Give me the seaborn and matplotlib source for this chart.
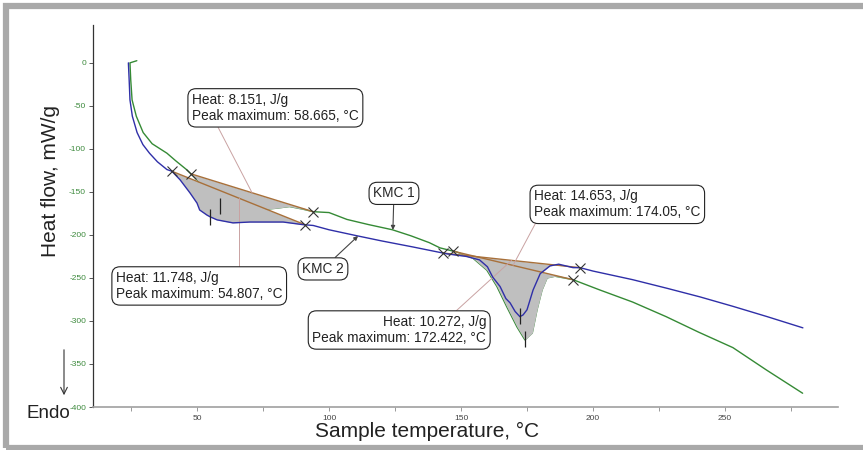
import numpy as np
import matplotlib
matplotlib.use("Agg")
import matplotlib.pyplot as plt
import seaborn as sns
from matplotlib.patches import Rectangle

# KMC 2 (blue) - sample temperature, °C / heat flow, mW/g
kmc2_t = [24.0, 24.3, 24.6, 25.5, 27.3, 29.5, 32.0, 35.0, 38.6, 40.5, 43.6, 47.3, 50.0, 51.0,
          53.8, 55.0, 57.6, 63.6, 70.0, 76.5, 82.6, 90.0, 94.0, 100.0, 110.6, 120.0, 131.8,
          144.7, 152.0, 157.0, 160.0, 162.0, 164.8, 167.0, 168.6, 170.5, 172.3, 173.5, 175.0,
          177.3, 180.0, 183.7, 187.0, 192.4, 195.0, 200.0, 215.0, 228.0, 240.5, 253.0, 266.0, 279.5]
kmc2_hf = [0, -20, -43, -62, -81, -95, -105, -115, -124, -126, -136, -151, -163, -171,
           -177, -179, -182.5, -186, -185, -185, -185, -188, -189, -194, -201, -207, -214,
           -222, -225, -229, -237, -249, -260, -274, -279, -289, -295, -293, -287,
           -264, -245, -236, -234, -238, -238, -242, -252, -262, -272, -283, -295, -308]

# KMC 1 (green)
kmc1_t = [27.2, 24.6, 24.9, 25.4, 27.0, 29.6, 33.0, 38.6, 42.0, 46.0, 47.7, 50.0, 55.0, 58.7,
          65.0, 72.0, 76.5, 80.0, 85.0, 90.0, 94.0, 100.0, 106.8, 115.0, 124.0, 131.0, 138.0,
          142.0, 148.5, 154.5, 159.8, 163.6, 167.4, 171.2, 174.2, 177.0, 178.8, 180.7, 182.6,
          185.6, 192.4, 202.6, 215.0, 227.7, 240.0, 253.0, 265.7, 279.4]
kmc1_hf = [2.5, 0, -20, -43, -62, -81, -94, -105, -114, -124, -129, -136, -155, -166,
           -170, -170, -170, -169, -167, -170, -173, -174, -182, -188, -194, -201, -209,
           -215, -220, -227, -241, -260, -284, -307, -322, -314, -287, -264, -250,
           -248, -252, -264, -278, -295, -313, -331, -357, -384]

# integration limits (start, end) and peak maxima
kmc2_limits = [(40.5, 91.0), (143.2, 195.1)]
kmc1_limits = [(47.7, 94.0), (147.0, 192.4)]
kmc2_peaks = [54.807, 172.422]
kmc1_peaks = [58.665, 174.05]
kmc2_heat = [11.748, 10.272]
kmc1_heat = [8.151, 14.653]

BLUE = "#2f2fa8"
GREEN = "#358a35"
FILL = "#bfbfbf"
BASE = "#a8703a"
LEADER = "#c9a2a2"

sns.set_theme(style="white")
plt.rcParams["font.family"] = ["Liberation Sans", "DejaVu Sans"]
plt.rcParams["axes.unicode_minus"] = False

fig = plt.figure(figsize=(8.63, 4.5), dpi=100)
ax = fig.add_axes([93 / 863, 43 / 450, 745 / 863, 382 / 450])

# curves
sns.lineplot(x=kmc1_t, y=kmc1_hf, sort=False, estimator=None, color=GREEN, lw=1.0, ax=ax, zorder=2)

curves = [(kmc2_t, kmc2_hf, kmc2_limits, kmc2_peaks),
          (kmc1_t, kmc1_hf, kmc1_limits, kmc1_peaks)]
mids = {}
for name, (t, hf, limits, peaks) in zip(["kmc2", "kmc1"], curves):
    t_sorted = np.array(t[1:] if name == "kmc1" else t)
    hf_sorted = np.array(hf[1:] if name == "kmc1" else hf)
    mids[name] = []
    for (a, b), pk in zip(limits, peaks):
        grid = np.linspace(a, b, 300)
        curve = np.interp(grid, t_sorted, hf_sorted)
        ya, yb = np.interp([a, b], t_sorted, hf_sorted)
        base = ya + (grid - a) * (yb - ya) / (b - a)
        ax.fill_between(grid, base, curve, color=FILL, lw=0, zorder=3)
        ax.plot([a, b], [ya, yb], color=BASE, lw=1.0, zorder=4)
        ax.plot([a, b], [ya, yb], ls="none", marker="x", ms=7, mew=0.8, color="#333333", zorder=6)
        ax.plot([pk], [np.interp(pk, t_sorted, hf_sorted)], ls="none", marker="|", ms=11,
                mew=0.9, color="#222222", zorder=6)
        m = (a + b) / 2
        mids[name].append((m, ya + (m - a) * (yb - ya) / (b - a)))

sns.lineplot(x=kmc2_t, y=kmc2_hf, sort=False, estimator=None, color=BLUE, lw=1.0, ax=ax, zorder=5)

# result labels
box = dict(boxstyle="round,pad=0.3,rounding_size=0.6", fc="white", ec="#222222", lw=0.8)
fs = 9.8
labels = [
    (f"Heat: {kmc1_heat[0]}, J/g\nPeak maximum: {kmc1_peaks[0]}, °C", (48.1, -52.3), "left", mids["kmc1"][0], (58.0, -75.0)),
    (f"Heat: {kmc2_heat[0]}, J/g\nPeak maximum: {kmc2_peaks[0]}, °C", (19.3, -259.3), "left", mids["kmc2"][0], (mids["kmc2"][0][0], -238.0)),
    (f"Heat: {kmc1_heat[1]}, J/g\nPeak maximum: {kmc1_peaks[1]}, °C", (177.7, -164.5), "left", mids["kmc1"][1], (178.3, -186.0)),
    (f"Heat: {kmc2_heat[1]}, J/g\nPeak maximum: {kmc2_peaks[1]}, °C", (159.5, -310.5), "right", mids["kmc2"][1], (147.9, -289.0)),
]
for txt, pos, ha, tip, start in labels:
    ax.plot([start[0], tip[0]], [start[1], tip[1]], color=LEADER, lw=0.7, zorder=4.5)
    ax.text(pos[0], pos[1], txt, ha=ha, va="center", fontsize=fs, color="#222222",
            linespacing=1.2, bbox=box, zorder=8)

arrow = dict(arrowstyle="-|>", color="#444444", lw=0.8, mutation_scale=6, shrinkA=0, shrinkB=0)
ax.annotate("KMC 1", xy=(124.2, np.interp(124.2, kmc1_t[1:], kmc1_hf[1:])), xytext=(124.6, -151.7),
            ha="center", va="center", fontsize=fs, bbox=box, arrowprops=arrow, zorder=8)
ax.annotate("KMC 2", xy=(111.0, np.interp(111.0, kmc2_t, kmc2_hf)), xytext=(97.7, -239.5),
            ha="center", va="center", fontsize=fs, bbox=box, arrowprops=arrow, zorder=8)

# axes styling
ax.set_xlim(10.6, 292.8)
ax.set_ylim(-400, 44)
ax.set_xticks([50, 100, 150, 200, 250])
ax.set_xticks([25, 75, 125, 175, 225, 275], minor=True)
ax.set_yticks(np.arange(-400, 1, 50))
ax.tick_params(axis="y", which="major", length=3, width=0.7, color="#555555", labelsize=6,
               labelcolor="#3d8a3d", pad=2, left=True)
ax.tick_params(axis="x", which="both", length=3, width=0.7, color="#999999", labelsize=6,
               labelcolor="#444444", pad=3, bottom=True)
for s in ["top", "right"]:
    ax.spines[s].set_visible(False)
ax.spines["left"].set_color("#333333")
ax.spines["left"].set_linewidth(0.9)
ax.spines["bottom"].set_color("#a0a0a0")
ax.spines["bottom"].set_linewidth(1.2)
ax.set_xlabel("")
ax.set_ylabel("")

fig.text(427 / 863, 1 - 431 / 450, "Sample temperature, °C", ha="center", va="center", fontsize=15, color="#222222")
fig.text(51 / 863, 1 - 181 / 450, "Heat flow, mW/g", ha="center", va="center", rotation=90, fontsize=15, color="#222222")
fig.text(48 / 863, 1 - 414 / 450, "Endo", ha="center", va="center", fontsize=13.5, color="#222222")
fig.add_artist(plt.Annotation("", xy=(64 / 863, 1 - 398 / 450), xytext=(64 / 863, 1 - 347 / 450),
                              xycoords="figure fraction", textcoords="figure fraction",
                              arrowprops=dict(arrowstyle="->", color="#333333", lw=0.8, mutation_scale=12)))

# grey frame around the chart
fig.add_artist(Rectangle((6 / 863, 2 / 450), 1.2, 442 / 450, transform=fig.transFigure,
                         fill=False, ec="#a9a9a9", lw=4.5, clip_on=False))

fig.savefig("out.png", dpi=100)
